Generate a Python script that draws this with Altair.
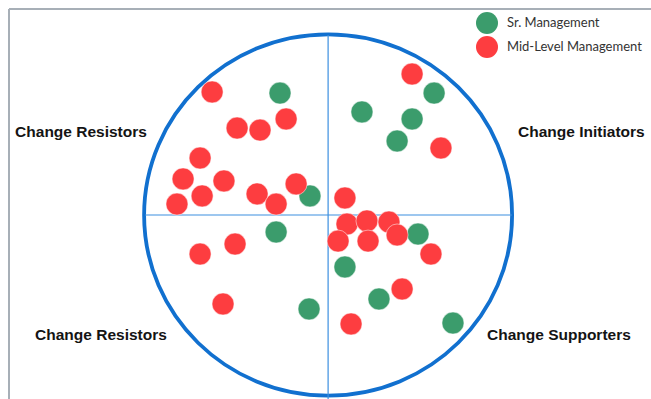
import altair as alt
import pandas as pd

# Coordinates in chart units: circle centre = (0, 0), circle radius ~ 10 units
series_names = ["Sr. Management", "Mid-Level Management"]
series_colors = ["#3b9c6c", "#fd3d40"]

sr_x = [-2.65, 1.78, 5.68, 4.49, 3.68, -1.03, -2.86, 4.81, 0.86, 2.70, -1.08, 6.70]
sr_y = [6.59, 5.57, 6.59, 5.19, 4.00, 1.03, -0.92, -1.03, -2.81, -4.54, -5.08, -5.84]

mid_x = [-6.32, -4.97, -3.73, -2.32, 4.49, 6.05, -6.97, -7.89, -5.68, -6.86, -8.22,
         -3.89, -2.86, -1.78, 0.86, 0.97, 2.05, 3.24, 0.49, 2.11, 3.68, 5.51,
         -6.97, -5.08, -5.73, 3.95, 1.19]
mid_y = [6.65, 4.70, 4.59, 5.19, 7.62, 3.62, 3.08, 1.95, 1.84, 1.03, 0.59,
         1.14, 0.59, 1.68, 0.92, -0.49, -0.32, -0.38, -1.41, -1.41, -1.08, -2.11,
         -2.11, -1.57, -4.81, -4.00, -5.89]

quad_labels = ["Change Resistors", "Change Initiators", "Change Resistors", "Change Supporters"]
quad_label_x = [-16.97, 10.22, -15.89, 8.54]
quad_label_y = [4.49, 4.49, -6.49, -6.49]

# quadrant cross and outer circle (chart units)
center_x = [-0.05]
center_y = [0.0]
vline_y = [9.73, -9.95]
hline_x = [-9.95, 9.89]

x_domain = [-17.3, 17.405]
y_domain = [-9.946, 11.135]

pts = pd.DataFrame({
    "x": sr_x + mid_x,
    "y": sr_y + mid_y,
    "group": [series_names[0]] * len(sr_x) + [series_names[1]] * len(mid_x),
    "ord": list(range(len(sr_x) + len(mid_x))),
})
labels_df = pd.DataFrame({"x": quad_label_x, "y": quad_label_y, "t": quad_labels})
circle_df = pd.DataFrame({"x": center_x, "y": center_y})
vline_df = pd.DataFrame({"x": center_x, "y": [vline_y[0]], "y2": [vline_y[1]]})
hline_df = pd.DataFrame({"x": [hline_x[0]], "x2": [hline_x[1]], "y": center_y})

xs = alt.Scale(domain=x_domain, nice=False, zero=False)
ys = alt.Scale(domain=y_domain, nice=False, zero=False)

k = 0.982
ellipse_path = (
    f"M 1 0 C 1 {0.5523*k:.4f} 0.5523 {k} 0 {k} "
    f"C -0.5523 {k} -1 {0.5523*k:.4f} -1 0 "
    f"C -1 {-0.5523*k:.4f} -0.5523 {-k} 0 {-k} "
    f"C 0.5523 {-k} 1 {-0.5523*k:.4f} 1 0 Z"
)

frame_v = alt.Chart(circle_df).mark_rule(color="#a7afb7", strokeWidth=2).encode(x=alt.value(0))
frame_h = alt.Chart(circle_df).mark_rule(color="#a7afb7", strokeWidth=2).encode(y=alt.value(0))

circle = alt.Chart(circle_df).mark_point(
    shape=ellipse_path, size=368 * 368, filled=False, color="#1170cf",
    strokeWidth=3.8, opacity=1
).encode(x=alt.X("x:Q", scale=xs, axis=None), y=alt.Y("y:Q", scale=ys, axis=None))

vline = alt.Chart(vline_df).mark_rule(color="#3d8fe0", strokeWidth=1.2).encode(
    x=alt.X("x:Q", scale=xs, axis=None), y=alt.Y("y:Q", scale=ys, axis=None), y2="y2:Q")
hline = alt.Chart(hline_df).mark_rule(color="#3d8fe0", strokeWidth=1.2).encode(
    x=alt.X("x:Q", scale=xs, axis=None), x2="x2:Q", y=alt.Y("y:Q", scale=ys, axis=None))

points = alt.Chart(pts).mark_circle(size=484, opacity=1, stroke="white", strokeWidth=0.5).encode(
    x=alt.X("x:Q", scale=xs, axis=None),
    y=alt.Y("y:Q", scale=ys, axis=None),
    color=alt.Color("group:N", scale=alt.Scale(domain=series_names, range=series_colors),
                    legend=alt.Legend(title=None, orient="none", legendX=467, legendY=3,
                                      symbolType="circle", symbolSize=484, symbolStrokeWidth=0,
                                      symbolOpacity=1, labelFont="Lato", labelFontSize=13,
                                      labelColor="#333333", labelOffset=9, rowPadding=2,
                                      padding=0)),
    order=alt.Order("ord:Q"),
)

texts = alt.Chart(labels_df).mark_text(
    align="left", baseline="middle", font="Liberation Sans", fontWeight="bold",
    fontSize=15.5, color="#141414"
).encode(x=alt.X("x:Q", scale=xs, axis=None), y=alt.Y("y:Q", scale=ys, axis=None), text="t:N")

chart = alt.layer(frame_v, frame_h, circle, vline, hline, points, texts).properties(
    width=642, height=390,
    padding={"left": 9, "top": 9, "right": 0, "bottom": 0},
    autosize=alt.AutoSizeParams(type="none"),
).configure_view(stroke=None)

chart.save("out.html", embed_options={"renderer": "svg", "actions": False})
